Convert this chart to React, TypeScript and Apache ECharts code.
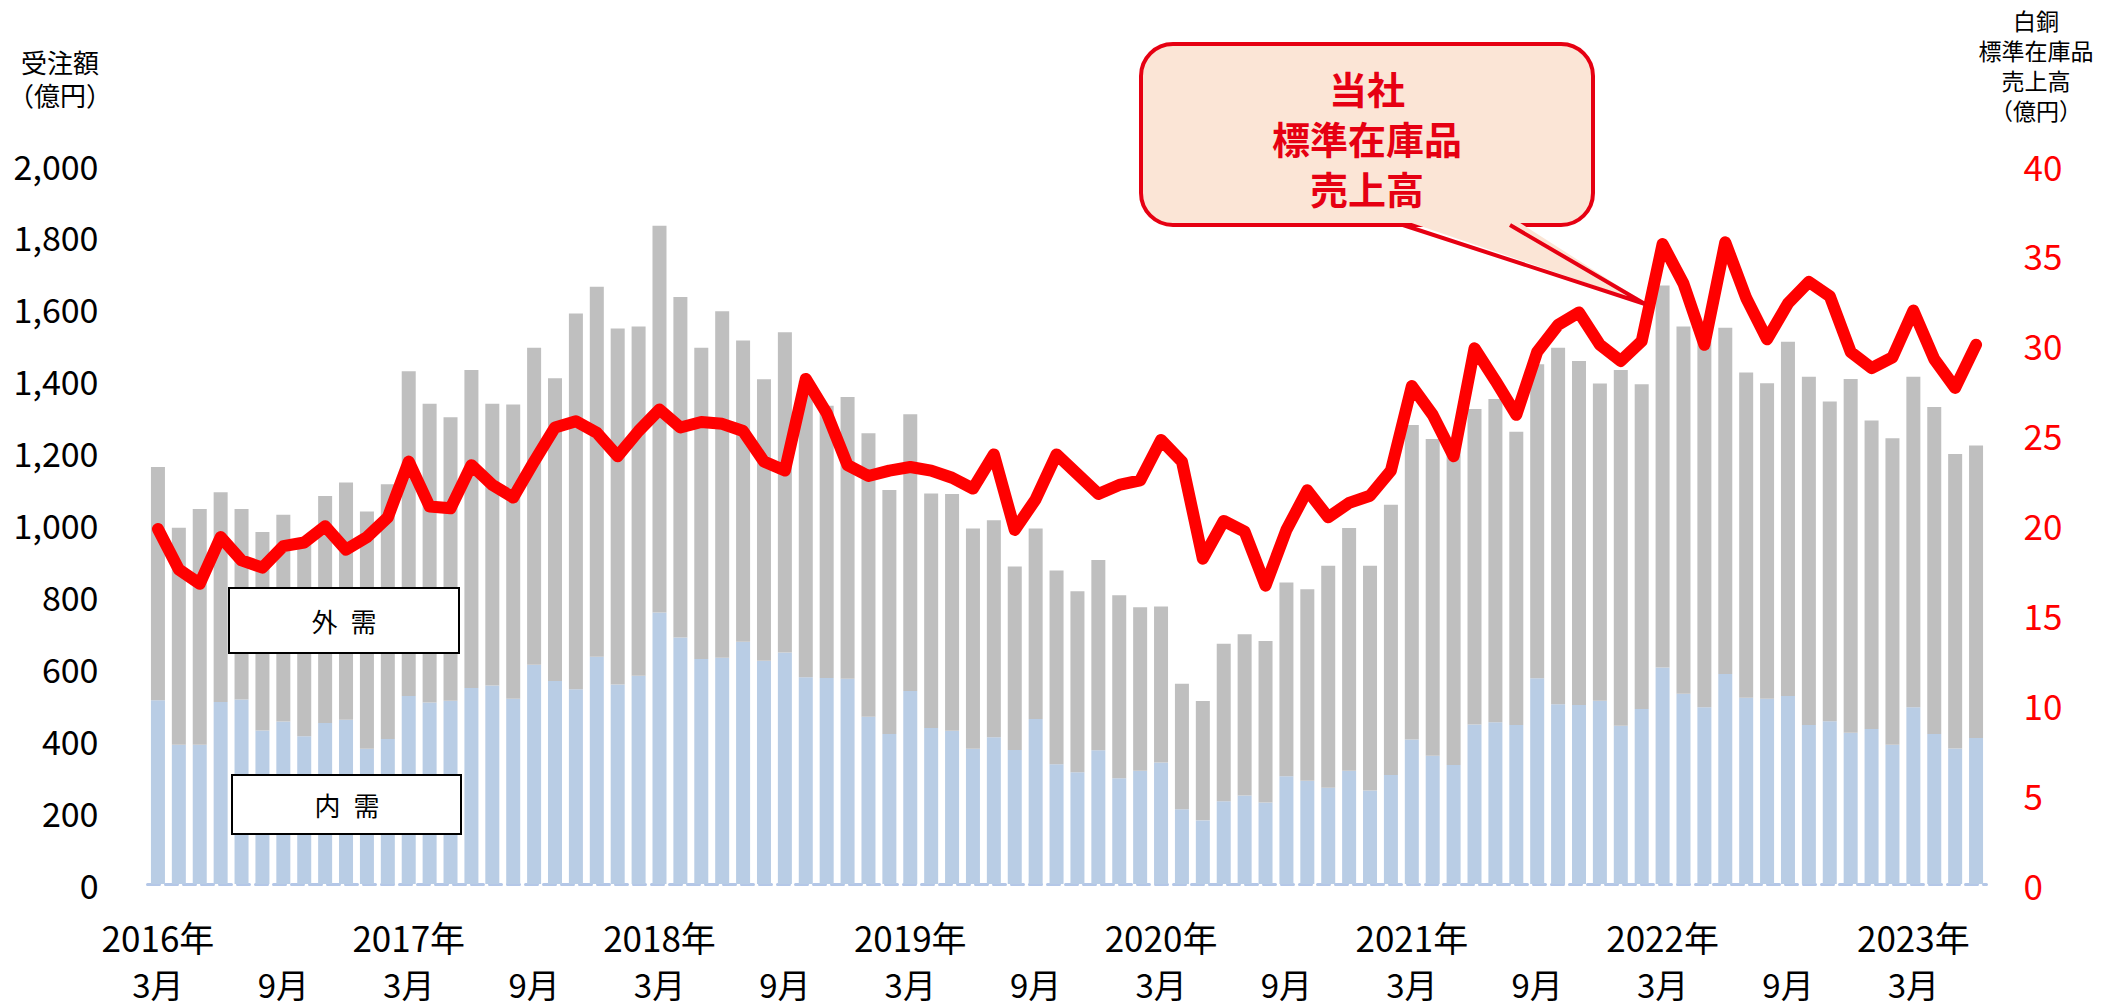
import React, { useEffect, useRef } from "react";
import * as echarts from "echarts";

// 2016-03 .. 2023-06 (88 months)
const startYear = 2016;
const startMonth = 3;
const monthCount = 88;
const categories: string[] = [];
const monthNums: number[] = [];
const yearNums: number[] = [];
for (let i = 0; i < monthCount; i++) {
  const t = startMonth - 1 + i;
  const y = startYear + Math.floor(t / 12);
  const m = (t % 12) + 1;
  categories.push(`${y}-${m}`);
  monthNums.push(m);
  yearNums.push(y);
}

// Total orders (億円) = bar top
const totalOrders = [
  1160, 991, 1043, 1090, 1043, 979, 1027, 950, 1079, 1117, 1036, 1112,
  1426, 1336, 1298, 1430, 1336, 1334, 1492, 1407, 1587, 1661, 1545, 1551,
  1831, 1633, 1492, 1593, 1512, 1404, 1535, 1400, 1330, 1355, 1254, 1096,
  1307, 1086, 1085, 989, 1012, 883, 989, 872, 814, 901, 803, 770,
  772, 557, 509, 668, 695, 676, 839, 820, 885, 990, 885, 1055,
  1277, 1238, 1230, 1321, 1349, 1258, 1446, 1492, 1455, 1392, 1430, 1390,
  1665, 1551, 1510, 1547, 1423, 1393, 1508, 1411, 1342, 1405, 1289, 1240,
  1411, 1327, 1196, 1220,
];

// Domestic demand (内需)
const domesticOrders = [
  511, 387, 387, 506, 513, 427, 452, 411, 448, 457, 376, 403,
  523, 505, 510, 545, 552, 515, 610, 565, 542, 632, 555, 579,
  755, 686, 626, 629, 674, 621, 644, 575, 573, 571, 465, 417,
  537, 434, 426, 376, 408, 373, 459, 333, 311, 372, 294, 315,
  338, 208, 177, 230, 246, 227, 300, 287, 268, 315, 260, 303,
  402, 357, 331, 444, 450, 442, 572, 500, 498, 510, 440, 487,
  602, 529, 492, 584, 518, 515, 523, 442, 453, 421, 431, 387,
  492, 417, 377, 406,
];

// Overseas demand (外需) = total - domestic
const overseasOrders = totalOrders.map((t, i) => t - domesticOrders[i]);

// 白銅 標準在庫品 売上高 (億円)
const hakudoSales = [
  19.75, 17.5, 16.7, 19.3, 18.0, 17.6, 18.8, 19.0, 19.9, 18.6, 19.3, 20.4,
  23.5, 21.0, 20.9, 23.3, 22.2, 21.5, 23.5, 25.4, 25.75, 25.1, 23.8, 25.2,
  26.4, 25.4, 25.7, 25.6, 25.2, 23.5, 23.0, 28.1, 26.2, 23.3, 22.7, 23.0,
  23.2, 23.0, 22.6, 22.0, 23.9, 19.7, 21.4, 23.9, 22.8, 21.7, 22.2, 22.45,
  24.7, 23.5, 18.1, 20.2, 19.6, 16.6, 19.7, 21.9, 20.4, 21.2, 21.6, 23.0,
  27.7, 26.1, 23.8, 29.8, 28.0, 26.1, 29.6, 31.1, 31.8, 30.0, 29.1, 30.2,
  35.6, 33.4, 30.0, 35.7, 32.6, 30.3, 32.3, 33.5, 32.7, 29.6, 28.7, 29.3,
  31.9, 29.2, 27.6, 30.0,
];

const rightTitleLines = ["白銅", "標準在庫品", "売上高", "（億円）"];
const rightTitleY = [20, 50, 80, 110];
const calloutLines = ["当社", "標準在庫品", "売上高"];
const calloutY = [87, 137, 187];

const FONT = "'Noto Sans CJK JP', 'Noto Sans', sans-serif";
const RED = "#E60012";

export default function App() {
  const ref = useRef<HTMLDivElement>(null);
  useEffect(() => {
    if (!ref.current) return;
    const chart = echarts.init(ref.current, undefined, { renderer: "svg" });
    chart.setOption({
      animation: false,
      backgroundColor: "#ffffff",
      textStyle: { fontFamily: FONT },
      grid: { left: 147.5, right: 129.5, top: 165, bottom: 124, containLabel: false },
      xAxis: [
        {
          type: "category",
          data: categories,
          position: "bottom",
          boundaryGap: true,
          axisLine: { show: true, lineStyle: { color: "#B4C7E7", width: 3, type: [12, 6] } },
          axisTick: { show: false },
          splitLine: { show: false },
          axisLabel: {
            interval: 0,
            margin: 83,
            fontSize: 33,
            lineHeight: 33,
            color: "#000",
            fontFamily: FONT,
            formatter: (_v: string, i: number) =>
              monthNums[i] === 3 || monthNums[i] === 9 ? `${monthNums[i]}月` : "",
          },
        },
        {
          type: "category",
          data: categories,
          position: "bottom",
          boundaryGap: true,
          axisLine: { show: false },
          axisTick: { show: false },
          splitLine: { show: false },
          axisLabel: {
            interval: 0,
            margin: 35,
            fontSize: 35,
            lineHeight: 35,
            color: "#000",
            fontFamily: FONT,
            formatter: (_v: string, i: number) => (monthNums[i] === 3 ? `${yearNums[i]}年` : ""),
          },
        },
      ],
      yAxis: [
        {
          type: "value",
          min: 0,
          max: 2000,
          interval: 200,
          axisLine: { show: false },
          axisTick: { show: false },
          splitLine: { show: false },
          axisLabel: {
            margin: 49,
            fontSize: 34,
            color: "#000",
            fontFamily: FONT,
            padding: [0, 0, 10, 0],
            formatter: (v: number) => v.toLocaleString("en-US"),
          },
        },
        {
          type: "value",
          min: 0,
          max: 40,
          interval: 5,
          position: "right",
          axisLine: { show: false },
          axisTick: { show: false },
          splitLine: { show: false },
          axisLabel: {
            margin: 37,
            fontSize: 35,
            color: "#FF0000",
            fontFamily: FONT,
            padding: [0, 0, 12, 0],
          },
        },
      ],
      series: [
        {
          name: "内需",
          type: "bar",
          stack: "orders",
          data: domesticOrders,
          barWidth: 14,
          itemStyle: { color: "#B9CDE5" },
          z: 2,
        },
        {
          name: "外需",
          type: "bar",
          stack: "orders",
          data: overseasOrders,
          barWidth: 14,
          itemStyle: { color: "#BFBFBF" },
          z: 2,
        },
        {
          name: "標準在庫品売上高",
          type: "line",
          yAxisIndex: 1,
          data: hakudoSales,
          symbol: "none",
          lineStyle: { color: "#FF0000", width: 12, cap: "round", join: "round" },
          z: 5,
        },
      ],
      graphic: [
        {
          type: "text",
          x: 60,
          y: 45,
          z: 100,
          style: {
            text: "受注額\n（億円）",
            fontSize: 26,
            lineHeight: 33,
            fill: "#000",
            fontFamily: FONT,
            align: "center",
            textAlign: "center",
          },
        },
        ...rightTitleLines.map((t, i) => ({
          type: "text",
          x: 2036,
          y: rightTitleY[i],
          z: 100,
          style: {
            text: t,
            fontSize: 23,
            fill: "#000",
            fontFamily: FONT,
            align: "center",
            verticalAlign: "middle",
            textAlign: "center",
            textVerticalAlign: "middle",
          },
        })),
        // legend boxes
        {
          type: "rect",
          z: 100,
          shape: { x: 229, y: 588, width: 230, height: 65 },
          style: { fill: "#fff", stroke: "#000", lineWidth: 2 },
        },
        {
          type: "text",
          z: 101,
          x: 344,
          y: 620,
          style: {
            text: "外\u2002需",
            fontSize: 26,
            fill: "#000",
            fontFamily: FONT,
            textAlign: "center",
            textVerticalAlign: "middle",
            align: "center",
            verticalAlign: "middle",
          },
        },
        {
          type: "rect",
          z: 100,
          shape: { x: 232, y: 775, width: 229, height: 59 },
          style: { fill: "#fff", stroke: "#000", lineWidth: 2 },
        },
        {
          type: "text",
          z: 101,
          x: 347,
          y: 804,
          style: {
            text: "内\u2002需",
            fontSize: 26,
            fill: "#000",
            fontFamily: FONT,
            textAlign: "center",
            textVerticalAlign: "middle",
            align: "center",
            verticalAlign: "middle",
          },
        },
        // callout
        {
          type: "rect",
          z: 110,
          shape: { x: 1141, y: 44, width: 452, height: 181, r: 32 },
          style: { fill: "#FBE5D6", stroke: RED, lineWidth: 4 },
        },
        {
          type: "polygon",
          z: 111,
          shape: { points: [[1400, 219], [1645, 303], [1514, 219]] },
          style: { fill: "#FBE5D6" },
        },
        {
          type: "polyline",
          z: 112,
          shape: { points: [[1403, 225], [1645, 304], [1510, 225]] },
          style: { stroke: RED, lineWidth: 4, fill: null, lineJoin: "miter" },
        },
        ...calloutLines.map((t, i) => ({
          type: "text",
          z: 113,
          x: 1367,
          y: calloutY[i],
          style: {
            text: t,
            fontSize: 38,
            fontWeight: "bold",
            fill: RED,
            fontFamily: FONT,
            align: "center",
            verticalAlign: "middle",
            textAlign: "center",
            textVerticalAlign: "middle",
          },
        })),
      ],
    });
    return () => chart.dispose();
  }, []);
  return (
    <div
      ref={ref}
      style={{ position: "absolute", left: 0, top: 0, width: 2116, height: 1008 }}
    />
  );
}
